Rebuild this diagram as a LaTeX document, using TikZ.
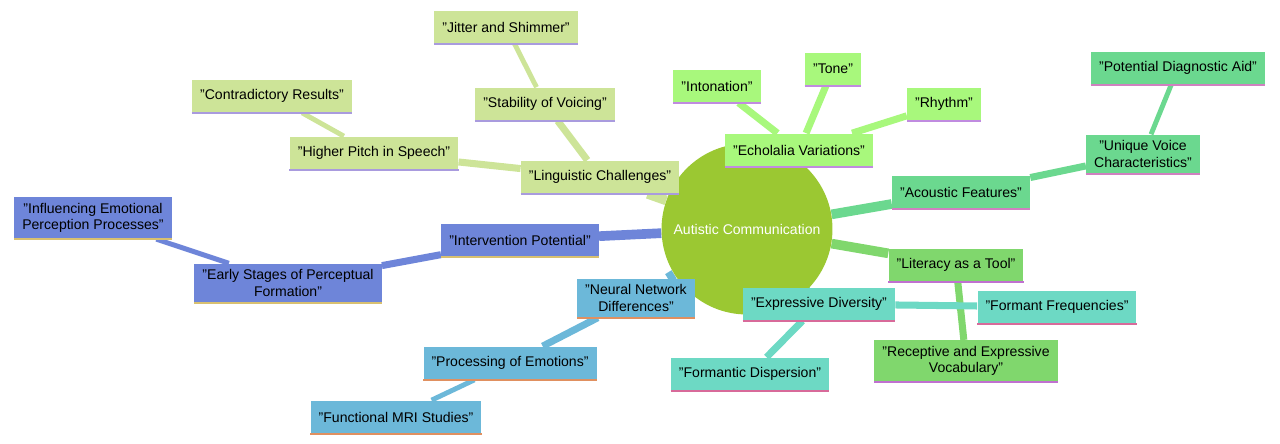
\documentclass[tikz,border=0pt]{standalone}
\usepackage{fontspec}
\setmainfont{Liberation Sans}
\usetikzlibrary{backgrounds}
\definecolor{rootc}{HTML}{9BC832}
\definecolor{lingc}{HTML}{CDE498}
\definecolor{echoc}{HTML}{A8F87C}
\definecolor{acouc}{HTML}{6BD88F}
\definecolor{litc}{HTML}{80D76D}
\definecolor{exprc}{HTML}{6DD9C4}
\definecolor{neurc}{HTML}{6CB8D9}
\definecolor{intvc}{HTML}{6E85D9}
\definecolor{linglc}{HTML}{A99BDE}
\definecolor{echolc}{HTML}{C08BE0}
\definecolor{acoulc}{HTML}{D080C0}
\definecolor{litlc}{HTML}{C070D0}
\definecolor{exprlc}{HTML}{D86A9A}
\definecolor{neurlc}{HTML}{E09060}
\definecolor{intvlc}{HTML}{D8C070}
\tikzset{
    mbox/.style={rectangle, fill=#1, minimum height=0.66cm, inner xsep=0.16cm,
        align=center, font=\fontsize{8}{9.5}\selectfont},
    stripe/.style={line width=1.2pt},
    link/.style={line width=#1, line cap=butt}
}
\newcommand{\mnode}[5]{% name, position, fill, stripe, text
    \node[mbox=#3] (#1) at #2 {#5};
    \draw[stripe,#4] (#1.south west) -- (#1.south east);
}
\begin{document}
\begin{tikzpicture}[x=0.02cm,y=-0.02cm]
    \useasboundingbox (0,0) rectangle (1280,443);
    \node[circle, fill=rootc, minimum size=3.42cm, text=white,
        font=\fontsize{8}{9.5}\selectfont] (root) at (747,229) {Autistic Communication};

    % linguistic branch
    \mnode{ling}{(600,177)}{lingc}{linglc}{"Linguistic Challenges"}
    \mnode{pitch}{(374,153)}{lingc}{linglc}{"Higher Pitch in Speech"}
    \mnode{contra}{(272,96)}{lingc}{linglc}{"Contradictory Results"}
    \mnode{voic}{(545,104)}{lingc}{linglc}{"Stability of Voicing"}
    \mnode{jitter}{(506,27)}{lingc}{linglc}{"Jitter and Shimmer"}

    % echolalia branch
    \mnode{echo}{(799,150)}{echoc}{echolc}{"Echolalia Variations"}
    \mnode{inton}{(717,86)}{echoc}{echolc}{"Intonation"}
    \mnode{tone}{(833,69)}{echoc}{echolc}{"Tone"}
    \mnode{rhythm}{(944,104)}{echoc}{echolc}{"Rhythm"}

    % acoustic branch
    \mnode{acou}{(961,192)}{acouc}{acoulc}{"Acoustic Features"}
    \mnode{uniq}{(1143,154)}{acouc}{acoulc}{"Unique Voice\\Characteristics"}
    \mnode{diag}{(1178,68)}{acouc}{acoulc}{"Potential Diagnostic Aid"}

    % literacy branch
    \mnode{lit}{(956,265)}{litc}{litlc}{"Literacy as a Tool"}
    \mnode{vocab}{(966,361)}{litc}{litlc}{"Receptive and Expressive\\Vocabulary"}

    % expressive branch
    \mnode{expr}{(819,304)}{exprc}{exprlc}{"Expressive Diversity"}
    \mnode{formf}{(1057,307)}{exprc}{exprlc}{"Formant Frequencies"}
    \mnode{formd}{(750,374)}{exprc}{exprlc}{"Formantic Dispersion"}

    % neural branch
    \mnode{neur}{(636,298)}{neurc}{neurlc}{"Neural Network\\Differences"}
    \mnode{emot}{(510,363)}{neurc}{neurlc}{"Processing of Emotions"}
    \mnode{fmri}{(396,417)}{neurc}{neurlc}{"Functional MRI Studies"}

    % intervention branch
    \mnode{intv}{(520,240)}{intvc}{intvlc}{"Intervention Potential"}
    \mnode{early}{(288,283)}{intvc}{intvlc}{"Early Stages of Perceptual\\Formation"}
    \mnode{infl}{(93,218)}{intvc}{intvlc}{"Influencing Emotional\\Perception Processes"}

    \begin{scope}[on background layer]
        \draw[link=5.5pt,lingc] (root) -- (ling);
        \draw[link=4pt,lingc] (ling) -- (pitch);
        \draw[link=2.8pt,lingc] (pitch) -- (contra);
        \draw[link=4pt,lingc] (ling) -- (voic);
        \draw[link=2.8pt,lingc] (voic) -- (jitter);
        \draw[link=5.5pt,echoc] (root) -- (echo);
        \draw[link=4pt,echoc] (echo) -- (inton);
        \draw[link=4pt,echoc] (echo) -- (tone);
        \draw[link=4pt,echoc] (echo) -- (rhythm);
        \draw[link=5.5pt,acouc] (root) -- (acou);
        \draw[link=4pt,acouc] (acou) -- (uniq);
        \draw[link=2.8pt,acouc] (uniq) -- (diag);
        \draw[link=5.5pt,litc] (root) -- (lit);
        \draw[link=4pt,litc] (lit) -- (vocab);
        \draw[link=5.5pt,exprc] (root) -- (expr);
        \draw[link=4pt,exprc] (expr) -- (formf);
        \draw[link=4pt,exprc] (expr) -- (formd);
        \draw[link=5.5pt,neurc] (root) -- (neur);
        \draw[link=4pt,neurc] (neur) -- (emot);
        \draw[link=2.8pt,neurc] (emot) -- (fmri);
        \draw[link=5.5pt,intvc] (root) -- (intv);
        \draw[link=4pt,intvc] (intv) -- (early);
        \draw[link=2.8pt,intvc] (early) -- (infl);
    \end{scope}
\end{tikzpicture}
\end{document}
